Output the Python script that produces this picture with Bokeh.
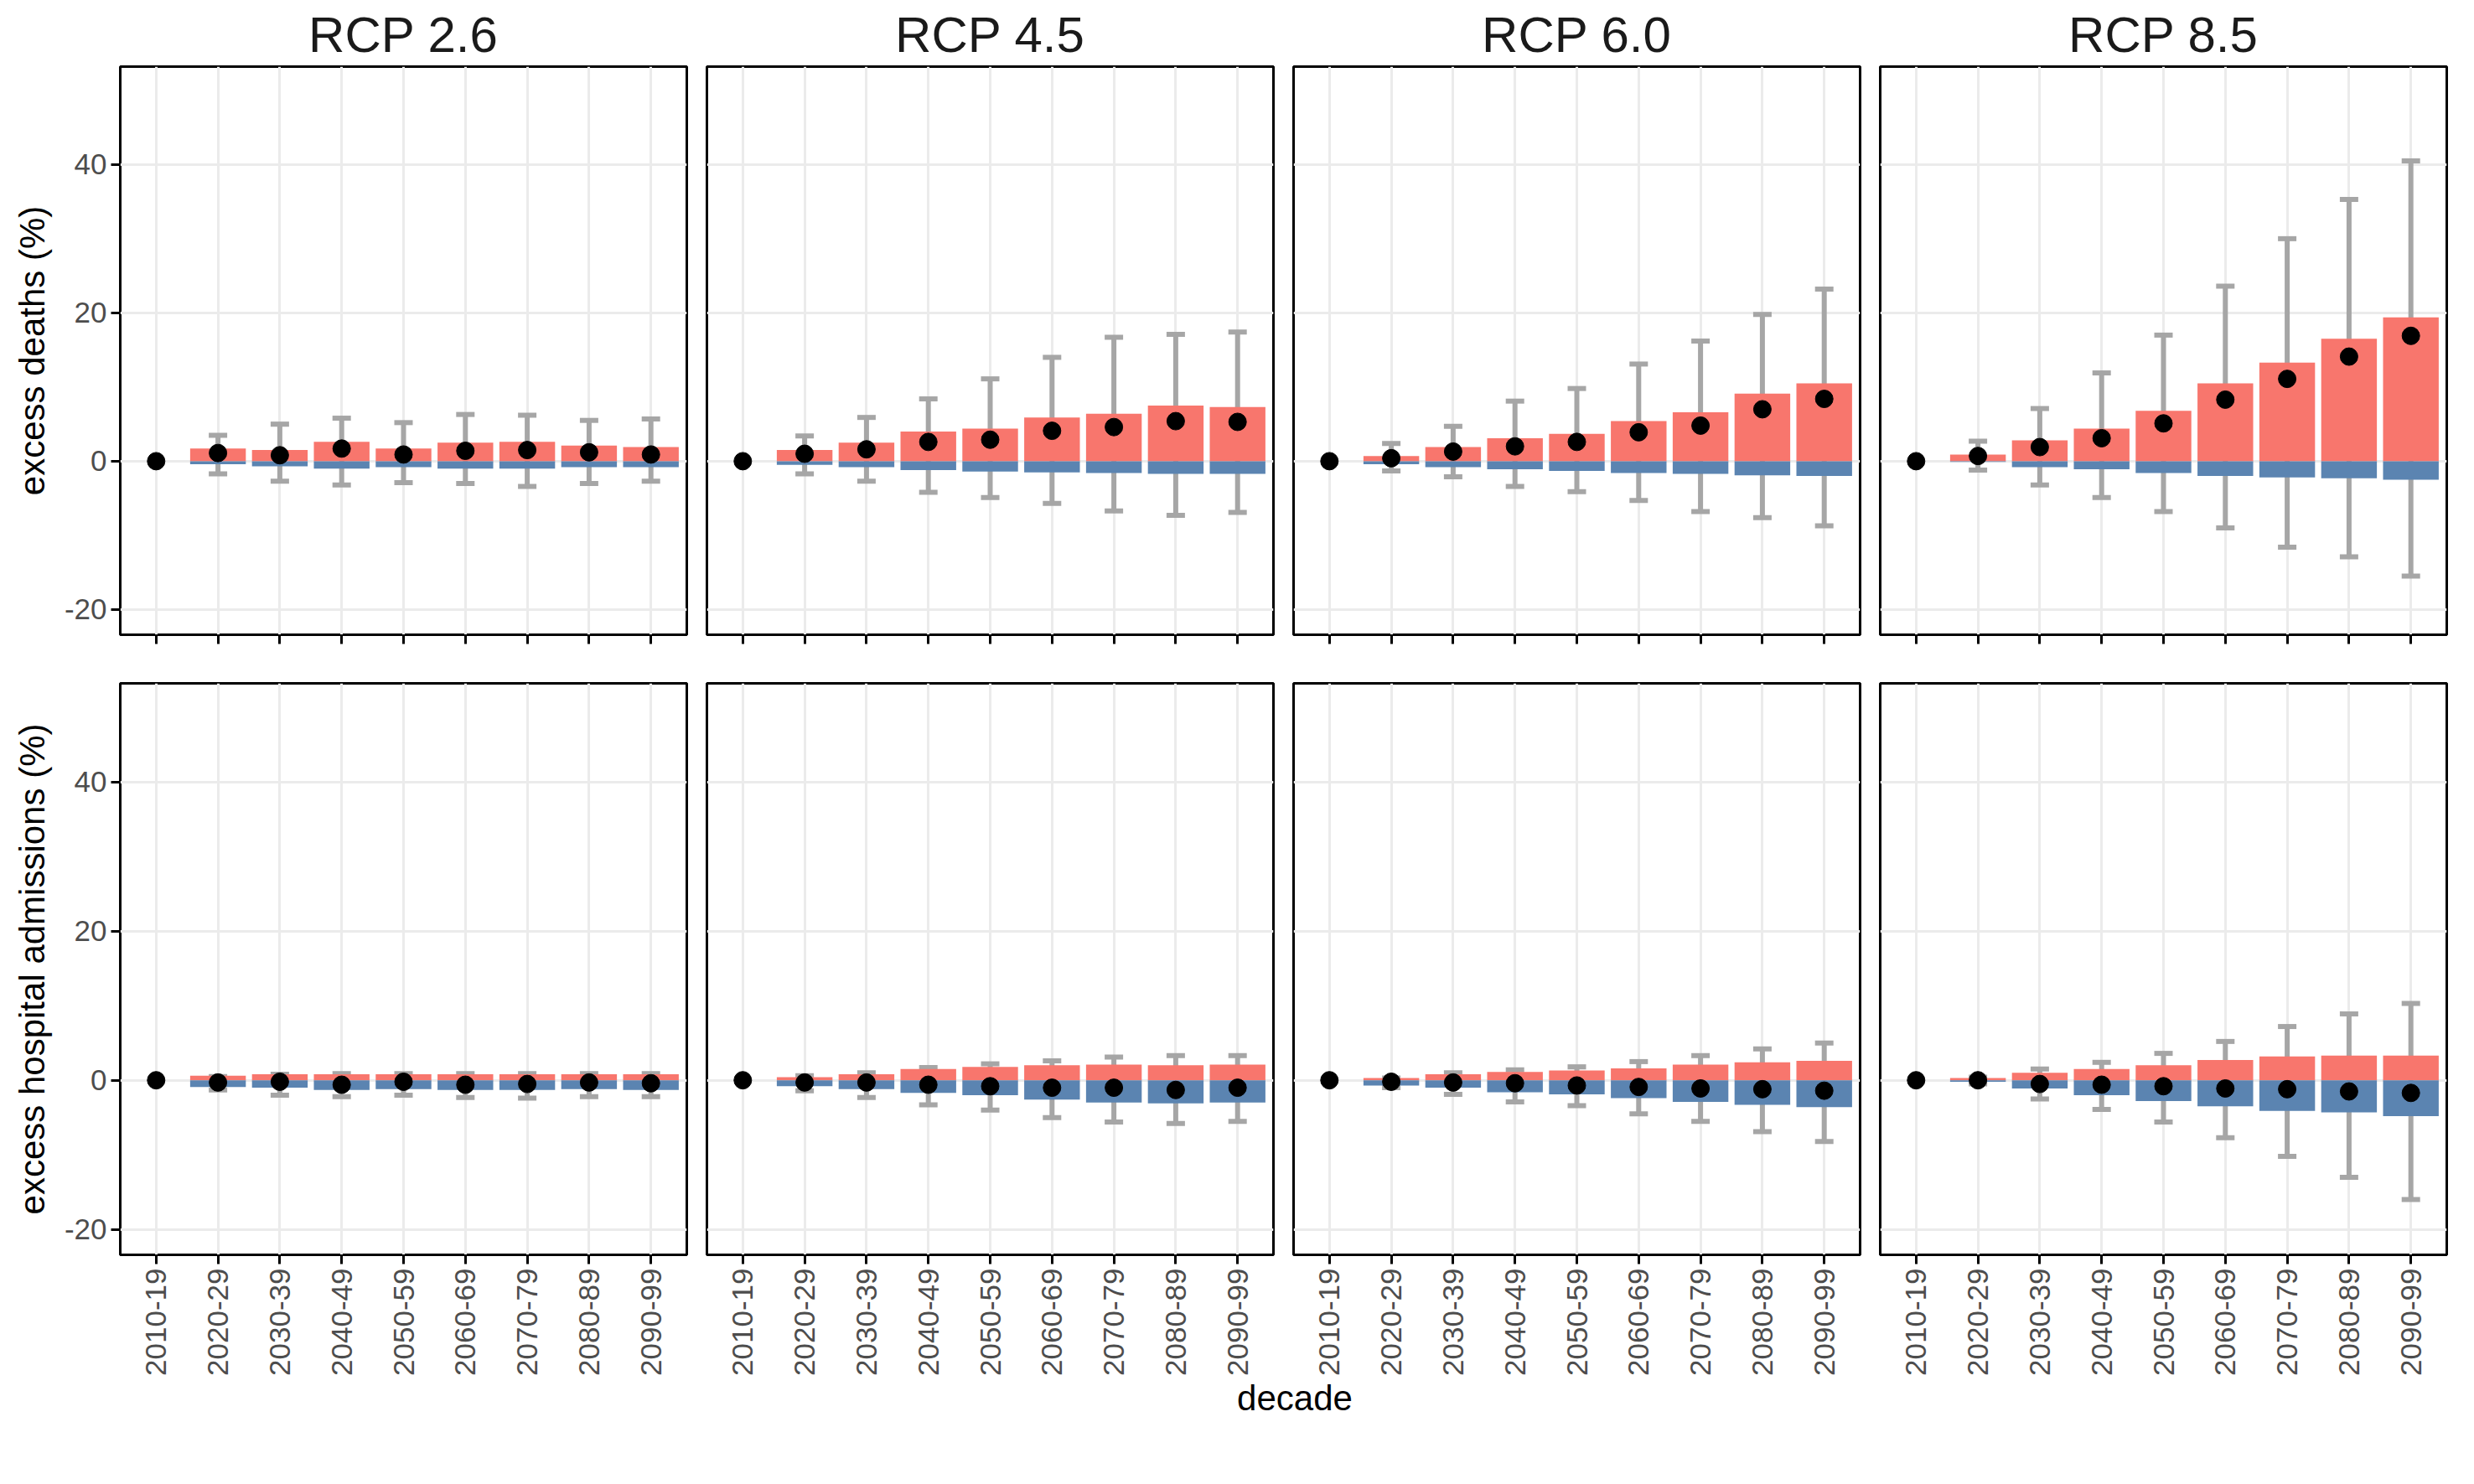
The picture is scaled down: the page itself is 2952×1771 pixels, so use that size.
from math import pi
from bokeh.plotting import figure
from bokeh.layouts import gridplot, column
from bokeh.models import ColumnDataSource, Range1d, FixedTicker, Whisker, TeeHead, Div
from bokeh.embed import file_html
from bokeh.resources import INLINE

decades = ["2010-19", "2020-29", "2030-39", "2040-49", "2050-59",
           "2060-69", "2070-79", "2080-89", "2090-99"]
scenarios = ["RCP 2.6", "RCP 4.5", "RCP 6.0", "RCP 8.5"]
outcomes = ["excess deaths (%)", "excess hospital admissions (%)"]

# excess deaths: positive part, negative part, central estimate, interval
deaths_pos = {
    "RCP 2.6": [0, 1.7, 1.5, 2.6, 1.7, 2.5, 2.6, 2.1, 1.9],
    "RCP 4.5": [0, 1.5, 2.5, 4.0, 4.4, 5.9, 6.4, 7.5, 7.3],
    "RCP 6.0": [0, 0.7, 1.9, 3.1, 3.7, 5.4, 6.6, 9.1, 10.5],
    "RCP 8.5": [0, 0.9, 2.8, 4.4, 6.8, 10.5, 13.3, 16.5, 19.4],
}
deaths_neg = {
    "RCP 2.6": [0, -0.4, -0.7, -1.0, -0.8, -1.0, -1.0, -0.8, -0.8],
    "RCP 4.5": [0, -0.5, -0.8, -1.2, -1.4, -1.5, -1.6, -1.7, -1.7],
    "RCP 6.0": [0, -0.4, -0.8, -1.1, -1.3, -1.6, -1.7, -1.9, -2.0],
    "RCP 8.5": [0, -0.1, -0.8, -1.1, -1.6, -2.0, -2.2, -2.3, -2.5],
}
deaths_mid = {
    "RCP 2.6": [0, 1.1, 0.8, 1.7, 0.9, 1.4, 1.5, 1.2, 0.9],
    "RCP 4.5": [0, 1.0, 1.6, 2.6, 2.9, 4.1, 4.6, 5.4, 5.3],
    "RCP 6.0": [0, 0.4, 1.3, 2.0, 2.6, 3.9, 4.8, 7.0, 8.4],
    "RCP 8.5": [0, 0.7, 1.9, 3.1, 5.1, 8.3, 11.1, 14.1, 16.9],
}
deaths_hi = {
    "RCP 2.6": [None, 3.5, 5.0, 5.8, 5.2, 6.3, 6.2, 5.5, 5.7],
    "RCP 4.5": [None, 3.4, 5.9, 8.4, 11.1, 14.0, 16.7, 17.1, 17.4],
    "RCP 6.0": [None, 2.4, 4.7, 8.1, 9.8, 13.1, 16.2, 19.8, 23.2],
    "RCP 8.5": [None, 2.7, 7.1, 11.9, 17.0, 23.6, 30.0, 35.3, 40.5],
}
deaths_lo = {
    "RCP 2.6": [None, -1.7, -2.7, -3.2, -2.9, -3.0, -3.4, -3.0, -2.7],
    "RCP 4.5": [None, -1.7, -2.7, -4.2, -4.9, -5.7, -6.7, -7.3, -6.9],
    "RCP 6.0": [None, -1.3, -2.1, -3.4, -4.1, -5.3, -6.8, -7.6, -8.7],
    "RCP 8.5": [None, -1.2, -3.2, -4.9, -6.8, -9.0, -11.6, -12.9, -15.5],
}

# excess hospital admissions
hosp_pos = {
    "RCP 2.6": [0, 0.6, 0.8, 0.8, 0.8, 0.8, 0.8, 0.8, 0.8],
    "RCP 4.5": [0, 0.4, 0.8, 1.5, 1.8, 2.0, 2.1, 2.0, 2.1],
    "RCP 6.0": [0, 0.3, 0.8, 1.1, 1.3, 1.6, 2.1, 2.4, 2.6],
    "RCP 8.5": [0, 0.3, 1.0, 1.5, 2.0, 2.7, 3.2, 3.3, 3.3],
}
hosp_neg = {
    "RCP 2.6": [0, -0.9, -1.0, -1.3, -1.2, -1.3, -1.3, -1.2, -1.3],
    "RCP 4.5": [0, -0.8, -1.2, -1.7, -2.0, -2.6, -3.0, -3.1, -3.0],
    "RCP 6.0": [0, -0.7, -1.0, -1.6, -1.9, -2.4, -2.9, -3.3, -3.6],
    "RCP 8.5": [0, -0.2, -1.1, -2.0, -2.8, -3.5, -4.1, -4.3, -4.8],
}
hosp_mid = {
    "RCP 2.6": [0, -0.3, -0.2, -0.6, -0.2, -0.6, -0.5, -0.3, -0.4],
    "RCP 4.5": [0, -0.3, -0.3, -0.6, -0.8, -1.0, -1.0, -1.3, -1.0],
    "RCP 6.0": [0, -0.2, -0.3, -0.4, -0.7, -0.9, -1.1, -1.2, -1.4],
    "RCP 8.5": [0, 0.0, -0.5, -0.6, -0.8, -1.1, -1.2, -1.5, -1.7],
}
hosp_hi = {
    "RCP 2.6": [None, 0.5, 0.8, 0.9, 0.9, 0.9, 0.9, 0.9, 0.9],
    "RCP 4.5": [None, 0.6, 1.0, 1.7, 2.2, 2.6, 3.1, 3.3, 3.3],
    "RCP 6.0": [None, 0.3, 1.0, 1.4, 1.8, 2.5, 3.3, 4.2, 5.0],
    "RCP 8.5": [None, 0.4, 1.5, 2.4, 3.6, 5.2, 7.2, 8.9, 10.3],
}
hosp_lo = {
    "RCP 2.6": [None, -1.3, -2.0, -2.2, -2.0, -2.3, -2.4, -2.2, -2.2],
    "RCP 4.5": [None, -1.4, -2.3, -3.3, -4.0, -5.0, -5.6, -5.8, -5.5],
    "RCP 6.0": [None, -1.0, -1.9, -2.9, -3.4, -4.5, -5.5, -6.9, -8.2],
    "RCP 8.5": [None, -0.5, -2.5, -3.9, -5.6, -7.7, -10.2, -13.0, -16.0],
}

y_ticks = [-20, 0, 20, 40]
y_tick_labels = ["-20", "0", "20", "40"]

RED = "#F8766D"
BLUE = "#5B84B1"
GREY = "#A6A6A6"
FONT = "Liberation Sans"

xpos = list(range(len(decades)))
rows = [
    (deaths_pos, deaths_neg, deaths_mid, deaths_hi, deaths_lo),
    (hosp_pos, hosp_neg, hosp_mid, hosp_hi, hosp_lo),
]

grid = []
for r, (pos, neg, mid, hi, lo) in enumerate(rows):
    row = []
    for c, sc in enumerate(scenarios):
        p = figure(
            frame_width=676, frame_height=678 if r == 0 else 682,
            x_range=Range1d(-0.58, 8.58), y_range=Range1d(-23.4, 53.2),
            output_backend="svg", toolbar_location=None, tools="",
            min_border_left=143 if c == 0 else 12, min_border_right=12,
            min_border_top=58 if r == 0 else 28,
            min_border_bottom=30 if r == 0 else 10,
            background_fill_color="white", border_fill_color="white",
        )
        if r == 0:
            p.title.text = sc
            p.title.align = "center"
            p.title.text_font = FONT
            p.title.text_font_size = "60px"
            p.title.text_font_style = "normal"
            p.title.text_color = "#1A1A1A"
        p.outline_line_color = "black"
        p.outline_line_width = 3
        p.xgrid.grid_line_color = "#EBEBEB"
        p.ygrid.grid_line_color = "#EBEBEB"
        p.xgrid.grid_line_width = 3
        p.ygrid.grid_line_width = 3
        p.xaxis.ticker = FixedTicker(ticks=xpos)
        p.yaxis.ticker = FixedTicker(ticks=y_ticks)
        p.yaxis.major_label_overrides = dict(zip(y_ticks, y_tick_labels))
        for ax in (p.xaxis[0], p.yaxis[0]):
            ax.axis_line_color = None
            ax.major_tick_line_color = "black"
            ax.major_tick_line_width = 3
            ax.major_tick_out = 11
            ax.major_tick_in = 0
            ax.minor_tick_line_color = None
            ax.major_label_text_font = FONT
            ax.major_label_text_font_size = "35px"
            ax.major_label_text_color = "#4D4D4D"
        if r == 0:
            p.xaxis.major_label_overrides = {i: "" for i in xpos}
        else:
            p.xaxis.major_label_overrides = {i: d for i, d in enumerate(decades)}
            p.xaxis.major_label_orientation = pi / 2
        if c == 0:
            p.yaxis.axis_label = outcomes[r]
            p.yaxis.axis_label_text_font = FONT
            p.yaxis.axis_label_text_font_size = "42px"
            p.yaxis.axis_label_text_font_style = "normal"
            p.yaxis.axis_label_text_color = "black"
            p.yaxis.axis_label_standoff = 12
        else:
            p.yaxis.visible = False

        src = ColumnDataSource(dict(x=xpos, pos=pos[sc], neg=neg[sc], mid=mid[sc]))
        p.vbar(x="x", bottom=0, top="pos", width=0.9, fill_color=RED,
               line_color=None, source=src)
        p.vbar(x="x", bottom="neg", top=0, width=0.9, fill_color=BLUE,
               line_color=None, source=src)
        wsrc = ColumnDataSource(dict(x=xpos[1:], hi=hi[sc][1:], lo=lo[sc][1:]))
        p.add_layout(Whisker(
            base="x", upper="hi", lower="lo", source=wsrc,
            line_color=GREY, line_width=6,
            upper_head=TeeHead(size=22, line_color=GREY, line_width=6),
            lower_head=TeeHead(size=22, line_color=GREY, line_width=6),
        ))
        p.scatter(x="x", y="mid", size=21, fill_color="black",
                  line_color="black", source=src)
        row.append(p)
    grid.append(row)

g = gridplot(grid, toolbar_location=None)
xlabel = Div(
    text="decade", width=2930, height=50,
    styles={"text-align": "center", "font-family": FONT, "font-size": "42px",
            "color": "black", "padding-left": "150px", "line-height": "40px"},
)
layout = column(g, xlabel, spacing=0)

open("out.html", "w").write(file_html(layout, INLINE))
